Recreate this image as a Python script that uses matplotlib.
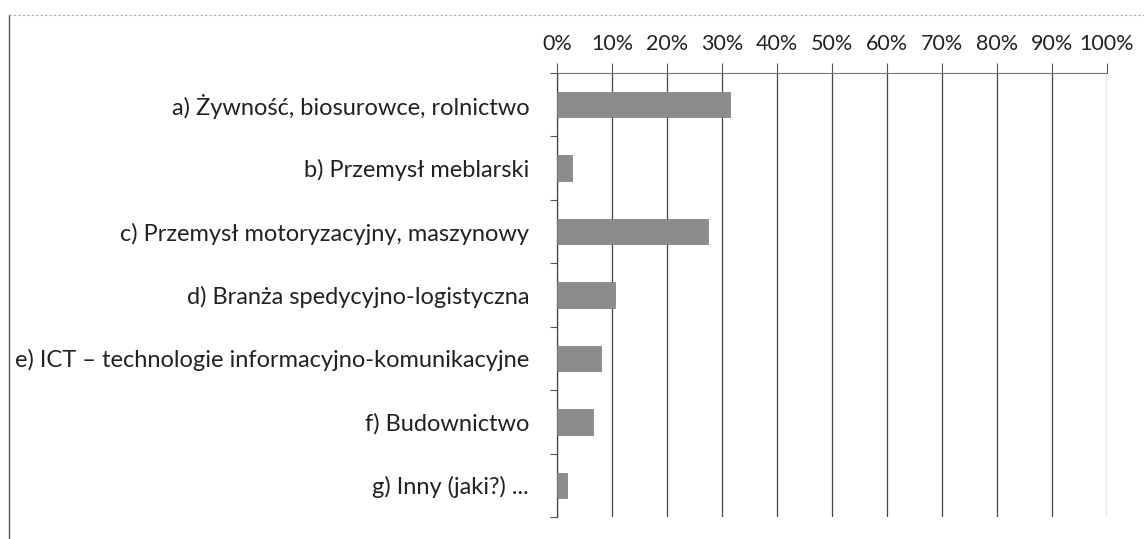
import numpy as np
import matplotlib.pyplot as plt
from matplotlib.ticker import FuncFormatter, FixedLocator

categories = [
    "a) Żywność, biosurowce, rolnictwo",
    "b) Przemysł meblarski",
    "c) Przemysł motoryzacyjny, maszynowy",
    "d) Branża spedycyjno-logistyczna",
    "e) ICT \u2013 technologie informacyjno-komunikacyjne",
    "f) Budownictwo",
    "g) Inny (jaki?) ...",
]
values = [31.5, 2.7, 27.5, 10.5, 8.0, 6.5, 1.8]
x_ticks = list(range(0, 101, 10))

plt.rcParams['font.family'] = ['Lato', 'DejaVu Sans']

fig = plt.figure(figsize=(11.44, 5.39), dpi=100)
ax = fig.add_axes([557 / 1144, 1 - 517 / 539, 550 / 1144, 444 / 539])

y = np.arange(len(categories))
ax.barh(y, values, height=0.4, color='#8c8c8c', edgecolor='#7a7a7a', linewidth=0.5, zorder=3)

ax.set_xlim(0, 100)
ax.set_ylim(len(categories) - 0.5, -0.5)
ax.xaxis.tick_top()
ax.set_xticks(x_ticks)
ax.xaxis.set_major_formatter(FuncFormatter(lambda v, p: f"{int(v)}%"))
ax.tick_params(axis='x', length=7, width=0.8, color='#555555', pad=7, labelsize=15.5, colors='#222222')
ax.grid(axis='x', color='#444444', linewidth=0.9, zorder=1)

ax.set_yticks(y)
ax.set_yticklabels(categories)
ax.yaxis.set_minor_locator(FixedLocator(np.arange(-0.5, len(categories), 1.0)))
ax.tick_params(axis='y', which='major', length=0, pad=20, labelsize=17, colors='#222222')
ax.tick_params(axis='y', which='minor', length=5, width=0.8, color='#555555')

for s in ['right', 'bottom']:
    ax.spines[s].set_visible(False)
ax.spines['top'].set_color('#777777')
ax.spines['top'].set_linewidth(0.8)
ax.spines['left'].set_color('#444444')
ax.spines['left'].set_linewidth(0.9)

# scan frame lines
fig.add_artist(plt.Line2D([9 / 1144, 9 / 1144], [0, 1 - 15 / 539], color='#555555', linewidth=1.0))
fig.add_artist(plt.Line2D([9 / 1144, 1], [1 - 15 / 539, 1 - 15 / 539], color='#aaaaaa', linewidth=0.8, linestyle=(0, (2, 2))))

fig.savefig("out.png", dpi=100)
